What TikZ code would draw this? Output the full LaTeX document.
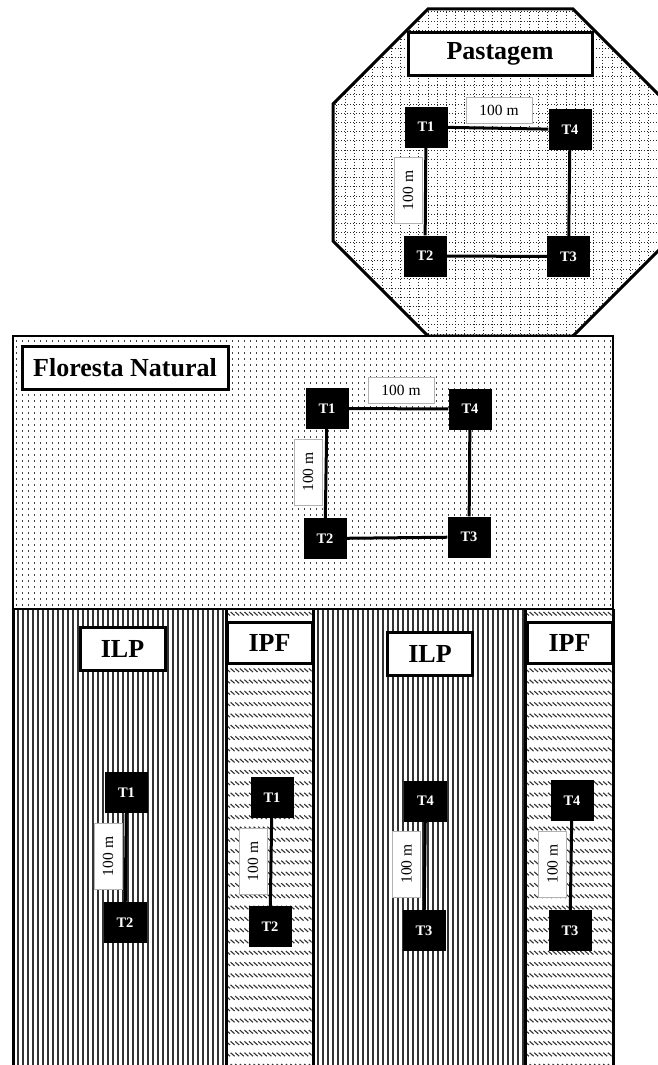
\documentclass[tikz,border=0pt]{standalone}
\usepackage{fontspec}
\setmainfont{Liberation Serif}
\begin{document}
\begin{tikzpicture}[x=1pt,y=-1pt,
  tbox/.style={fill=black,text=white,minimum width=43pt,minimum height=41pt,inner sep=0pt,font=\fontsize{14.5}{15}\selectfont\bfseries},
  lbl/.style={fill=white,draw=black!30,line width=0.8pt,inner sep=0pt,font=\fontsize{15.5}{16}\selectfont},
  hlbl/.style={lbl,minimum width=66pt,minimum height=26pt},
  vlbl/.style={lbl,minimum width=66pt,minimum height=28pt,rotate=90},
  titlebox/.style={fill=white,draw=black,line width=3pt,inner sep=0pt,font=\fontsize{26}{26}\selectfont\bfseries},
  conn/.style={line width=3pt,black},
  gridln/.style={black!85,line width=1pt,dash pattern=on 1.3pt off 1.7pt},
  dotln/.style={black!75,line width=1.3pt,dash pattern=on 1.3pt off 4.7pt},
  vline/.style={black!80,line width=1.1pt},
  hatch/.style={black!80,line width=1.1pt},
  border/.style={line width=3pt,black}]
\useasboundingbox (0,0) rectangle (657,1065);
% ---------------- Pastagem octagon ----------------
\begin{scope}
  \clip (428,9) -- (573,9) -- (668,104) -- (668,241) -- (573,336) -- (428,336) -- (333,241) -- (333,104) -- cycle;
  \fill[white] (320,0) rectangle (680,340);
  \foreach \x in {336,345.2,...,670} {\draw[gridln] (\x,0) -- (\x,340);}
  \foreach \y in {12,21.2,...,340} {\draw[gridln] (320,\y) -- (680,\y);}
\end{scope}
\draw[line width=3pt] (428,9) -- (573,9) -- (668,104) -- (668,241) -- (573,336) -- (428,336) -- (333,241) -- (333,104) -- cycle;
% ---------------- Floresta rectangle ----------------
\fill[white] (13,336) rectangle (613,609);
\foreach \y in {341,347,...,606} {\draw[dotln] (16,\y) -- (611,\y);}
\draw[line width=2.5pt] (13,336) rectangle (613,609);
% ---------------- Bottom columns ----------------
\fill[white] (13,609) rectangle (613,1070);
\foreach \x in {18,23,...,224} {\draw[vline] (\x,609) -- (\x,1070);}
\foreach \x in {318,323,...,523} {\draw[vline] (\x,609) -- (\x,1070);}
\begin{scope}
  \clip (227.5,609) rectangle (311.5,1070);
  \foreach \y in {612,623.3,...,1070} {\draw[hatch] foreach \x in {226,230.6,...,314} {(\x,\y) -- ++(4,3.5)};}
\end{scope}
\begin{scope}
  \clip (526.5,609) rectangle (611.5,1070);
  \foreach \y in {612,623.3,...,1070} {\draw[hatch] foreach \x in {525,529.6,...,614} {(\x,\y) -- ++(4,3.5)};}
\end{scope}
\foreach \x in {13,226,313,525,613} {\draw[border] (\x,609) -- (\x,1070);}
\draw[line width=2.5pt] (13,609) -- (613,609);
% ---------------- Titles ----------------
\node[titlebox,minimum width=184pt,minimum height=42pt] (tpast) at (500,54) {Pastagem};
\node[titlebox,minimum width=206pt,minimum height=43pt] (tflor) at (125,367.5) {Floresta Natural};
\node[titlebox,minimum width=85pt,minimum height=43pt] (tilp1) at (122.5,648.5) {ILP};
\node[titlebox,minimum width=85pt,minimum height=41pt] (tipf1) at (269.5,642.5) {IPF};
\node[titlebox,minimum width=85pt,minimum height=43pt] (tilp2) at (430,653.5) {ILP};
\node[titlebox,minimum width=85pt,minimum height=41pt] (tipf2) at (569.5,642.5) {IPF};
% ---------------- Pastagem plots ----------------
\node[hlbl] (plh) at (499,110) {100 m};
\node[vlbl] (plv) at (408,190.5) {100 m};
\node[tbox] (p1) at (426,127) {T1};
\node[tbox] (p4) at (570,129.5) {T4};
\node[tbox] (p2) at (425,256) {T2};
\node[tbox] (p3) at (568.5,256.5) {T3};
\draw[conn] (p1) -- (p4);
\draw[conn] (p1) -- (p2);
\draw[conn] (p4) -- (p3);
\draw[conn] (p2) -- (p3);
% ---------------- Floresta plots ----------------
\node[hlbl] (flh) at (401,390) {100 m};
\node[vlbl] (flv) at (308,472) {100 m};
\node[tbox] (f1) at (327,408.5) {T1};
\node[tbox] (f4) at (470,409) {T4};
\node[tbox] (f2) at (325,538.5) {T2};
\node[tbox] (f3) at (469,537) {T3};
\draw[conn] (f1) -- (f4);
\draw[conn] (f1) -- (f2);
\draw[conn] (f4) -- (f3);
\draw[conn] (f2) -- (f3);
% ---------------- Column plots ----------------
\node[vlbl] (alv) at (108,856.5) {100 m};
\node[tbox] (a1) at (126.5,792.5) {T1};
\node[tbox] (a2) at (125,922.5) {T2};
\draw[conn] (a1) -- (a2);
\node[vlbl] (blv) at (253,861.5) {100 m};
\node[tbox] (b1) at (272,797.5) {T1};
\node[tbox] (b2) at (270,926.5) {T2};
\draw[conn] (b1) -- (b2);
\node[vlbl] (clv) at (406.5,864) {100 m};
\node[tbox] (c4) at (425.5,801) {T4};
\node[tbox] (c3) at (424,930.5) {T3};
\draw[conn] (c4) -- (c3);
\node[vlbl] (dlv) at (552.5,864) {100 m};
\node[tbox] (d4) at (572,800.5) {T4};
\node[tbox] (d3) at (570,930.5) {T3};
\draw[conn] (d4) -- (d3);
\end{tikzpicture}
\end{document}
